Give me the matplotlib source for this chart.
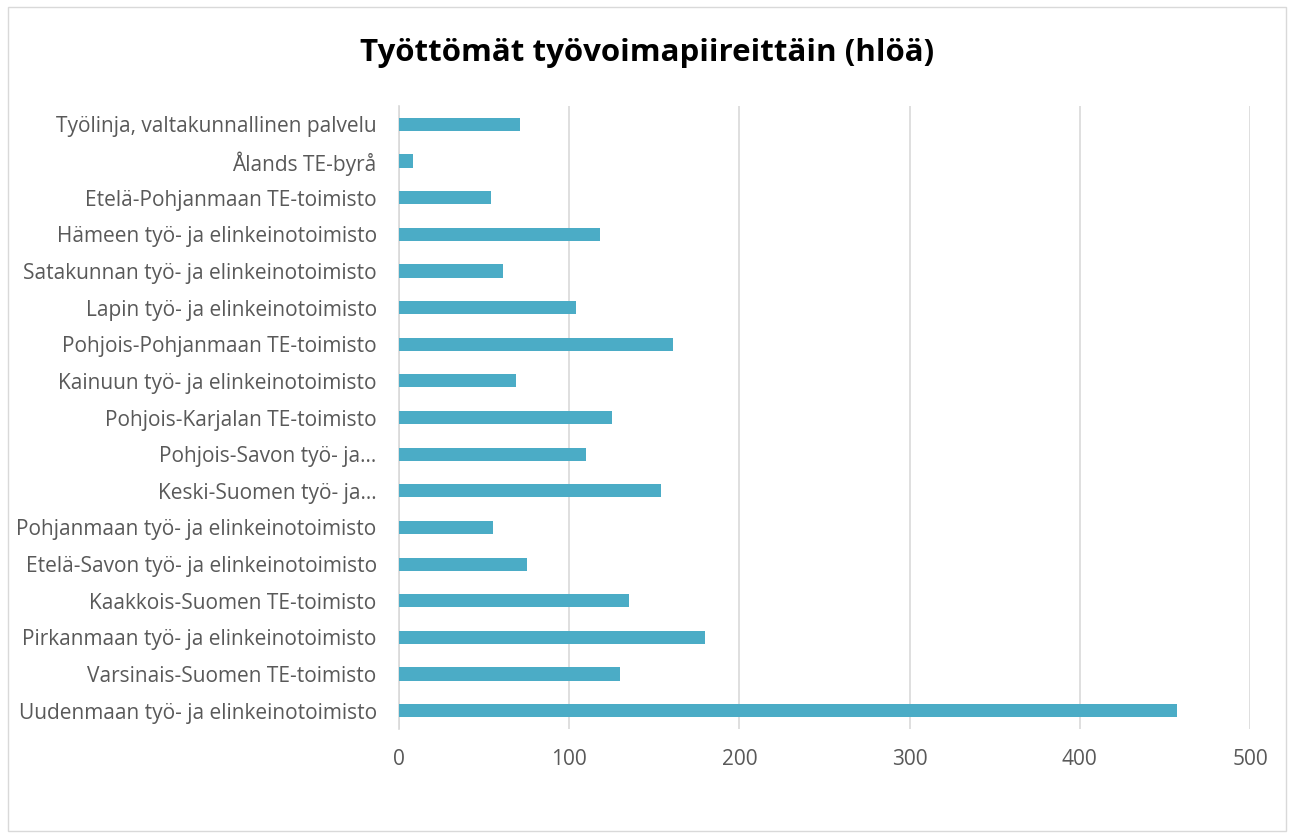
import matplotlib.pyplot as plt
from matplotlib.patches import Rectangle

categories = ['Uudenmaan työ- ja elinkeinotoimisto',
              'Varsinais-Suomen TE-toimisto',
              'Pirkanmaan työ- ja elinkeinotoimisto',
              'Kaakkois-Suomen TE-toimisto',
              'Etelä-Savon työ- ja elinkeinotoimisto',
              'Pohjanmaan työ- ja elinkeinotoimisto',
              'Keski-Suomen työ- ja…',
              'Pohjois-Savon työ- ja…',
              'Pohjois-Karjalan TE-toimisto',
              'Kainuun työ- ja elinkeinotoimisto',
              'Pohjois-Pohjanmaan TE-toimisto',
              'Lapin työ- ja elinkeinotoimisto',
              'Satakunnan työ- ja elinkeinotoimisto',
              'Hämeen työ- ja elinkeinotoimisto',
              'Etelä-Pohjanmaan TE-toimisto',
              'Ålands TE-byrå',
              'Työlinja, valtakunnallinen palvelu']
values = [457, 130, 180, 135, 75, 55, 154, 110, 125, 69, 161, 104, 61, 118, 54, 8, 71]
xticks = [0, 100, 200, 300, 400, 500]

plt.rcParams['font.family'] = ['Open Sans', 'DejaVu Sans']

fig = plt.figure(figsize=(12.94, 8.38), dpi=100)
ax = fig.add_axes([0.3083, 0.130, 0.6577, 0.7435])

ypos = range(len(categories))
ax.barh(ypos, values, height=0.36, color='#4bacc6', zorder=3)
ax.set_yticks(list(ypos))
ax.set_yticklabels(categories, fontsize=15, color='#595959')
ax.set_ylim(-0.5, len(categories) - 0.5)
ax.set_xlim(0, 500)
ax.set_xticks(xticks)
ax.set_xticklabels([str(t) for t in xticks], fontsize=15, color='#595959')
ax.grid(axis='x', color='#d9d9d9', linewidth=1.2, zorder=0)
for s in ['top', 'right', 'bottom']:
    ax.spines[s].set_visible(False)
ax.spines['left'].set_color('#d9d9d9')
ax.spines['left'].set_linewidth(1.2)
ax.tick_params(axis='both', length=0)
ax.tick_params(axis='y', pad=16)
ax.tick_params(axis='x', pad=14)

fig.text(0.5, 0.937, 'Työttömät työvoimapiireittäin (hlöä)', ha='center', va='center',
         fontsize=22.5, fontweight='bold', color='black')

fig.patches.append(Rectangle((0.006, 0.008), 0.988, 0.984, transform=fig.transFigure,
                             fill=False, edgecolor='#d9d9d9', linewidth=1))

plt.savefig('out.png', dpi=100)
